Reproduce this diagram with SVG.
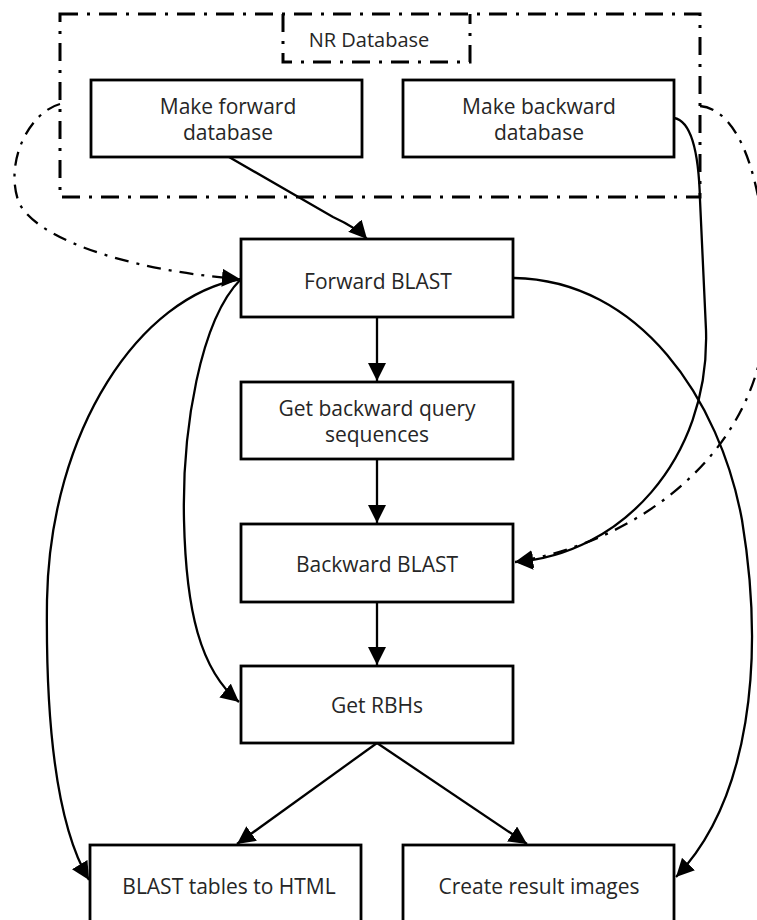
<svg xmlns="http://www.w3.org/2000/svg" width="757" height="920" viewBox="0 0 757 920">
<style>
.box{fill:#fff;stroke:#000;stroke-width:2.8}
.lbl{font-family:"Open Sans","Noto Sans",sans-serif;font-size:21px;fill:#262626;text-anchor:middle}
.dd{fill:none;stroke:#000;stroke-width:3;stroke-dasharray:18 9 3 9}
.c{fill:none;stroke:#000;stroke-width:2.3}
.cd{fill:none;stroke:#000;stroke-width:2.3;stroke-dasharray:14 8 3 8}
</style>
<defs>
<marker id="ah" markerUnits="userSpaceOnUse" markerWidth="19" markerHeight="18" refX="18" refY="9" orient="auto">
<path d="M0,0 L18,9 L0,18 Z" fill="#000"/>
</marker>
</defs>
<rect width="757" height="920" fill="#fff"/>

<g id="nr-database">
<rect class="dd" x="60" y="14" width="640" height="183"/>
<path class="dd" d="M283,14 V62 H470 V14"/>
<text class="lbl" x="369" y="47" style="font-size:20px">NR Database</text>
</g>

<g id="connectors">
<path class="c" d="M229,157 L333,217 Q357,228 367,239" marker-end="url(#ah)"/>
<path class="c" d="M674,118 Q698,122 700,200 L706,330 C710,460 620,555 515,562" marker-end="url(#ah)"/>
<path class="cd" d="M60,104 C30,112 5,160 18,200 C30,235 120,270 240,279" marker-end="url(#ah)"/>
<path class="cd" d="M700,106 C745,110 768,200 766,300 C770,440 650,540 515,562" marker-end="url(#ah)"/>
<path class="c" d="M377,317 V381" marker-end="url(#ah)"/>
<path class="c" d="M377,459 V523" marker-end="url(#ah)"/>
<path class="c" d="M377,602 V665" marker-end="url(#ah)"/>
<path class="c" d="M377,743 L237,844" marker-end="url(#ah)"/>
<path class="c" d="M377,743 L527,844" marker-end="url(#ah)"/>
<path class="c" d="M514,278 C640,280 720,400 742,520 C765,660 750,800 676,877" marker-end="url(#ah)"/>
<path class="c" d="M241,279 C140,296 50,430 47,600 C45,760 65,840 89,880" marker-end="url(#ah)"/>
<path class="c" d="M241,279 C200,320 182,430 184,520 C186,610 200,670 239,702" marker-end="url(#ah)"/>
</g>

<g id="make-forward-database">
<rect class="box" x="91" y="80" width="271" height="77"/>
<text class="lbl" x="228" y="114">Make forward</text>
<text class="lbl" x="228" y="140">database</text>
</g>
<g id="make-backward-database">
<rect class="box" x="403" y="80" width="271" height="77"/>
<text class="lbl" x="539" y="114">Make backward</text>
<text class="lbl" x="539" y="140">database</text>
</g>
<g id="forward-blast">
<rect class="box" x="241" y="239" width="272" height="78"/>
<text class="lbl" x="378" y="289">Forward BLAST</text>
</g>
<g id="get-backward-query-sequences">
<rect class="box" x="241" y="382" width="272" height="77"/>
<text class="lbl" x="377" y="416">Get backward query</text>
<text class="lbl" x="377" y="442">sequences</text>
</g>
<g id="backward-blast">
<rect class="box" x="241" y="524" width="272" height="78"/>
<text class="lbl" x="377" y="572">Backward BLAST</text>
</g>
<g id="get-rbhs">
<rect class="box" x="241" y="666" width="272" height="77"/>
<text class="lbl" x="377" y="713">Get RBHs</text>
</g>
<g id="blast-tables-to-html">
<rect class="box" x="90" y="845" width="271" height="78"/>
<text class="lbl" x="229" y="894">BLAST tables to HTML</text>
</g>
<g id="create-result-images">
<rect class="box" x="403" y="845" width="271" height="78"/>
<text class="lbl" x="539" y="894">Create result images</text>
</g>
</svg>
